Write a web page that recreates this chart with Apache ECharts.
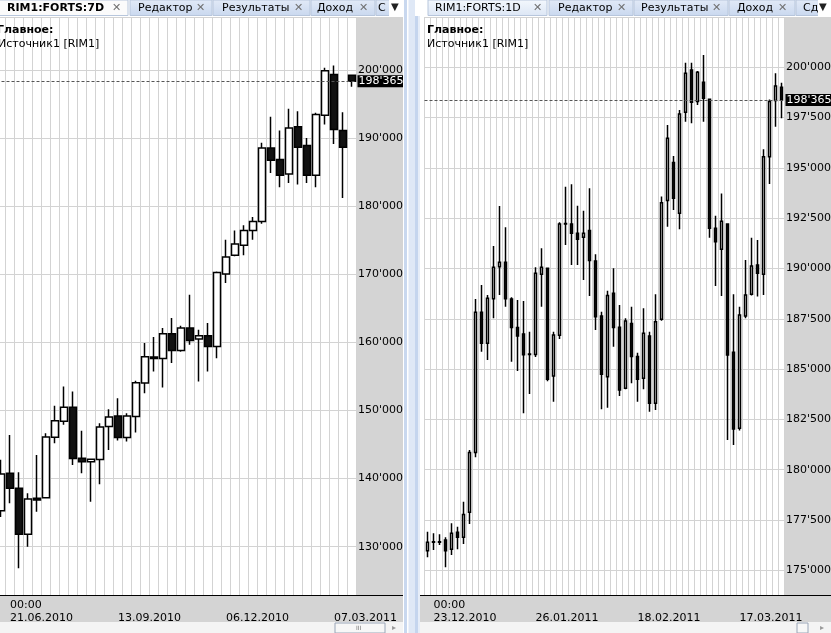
<!DOCTYPE html>
<html>
<head>
<meta charset="utf-8">
<script src="https://cdn.jsdelivr.net/npm/echarts@6/dist/echarts.min.js"></script>
<style>
  html, body { margin: 0; padding: 0; background: #fff; }
  #chart { width: 831px; height: 633px; }
</style>
</head>
<body>
<div id="chart"></div>
<script>
// RIM1:FORTS:7D - weekly bars
const weekOpen  = [135290, 140790, 138580, 131820, 137110, 137200, 146080, 148430, 150490, 142990,
                   142490, 142790, 147640, 149210, 146020, 149110, 154020, 157840, 157640, 161270,
                   158810, 162100, 160490, 160970, 159400, 170040, 172780, 174250, 176450, 177770,
                   188560, 186840, 184740, 191650, 188900, 184540, 193360, 199340, 191110, 199240];
const weekClose = [140690, 138580, 131820, 137010, 136860, 146120, 148480, 150490, 142940, 142490,
                   142850, 147590, 149060, 146020, 149210, 154060, 157880, 157640, 161270, 158810,
                   162100, 160280, 160970, 159400, 170280, 172540, 174450, 176450, 177770, 188560,
                   186740, 184540, 191500, 188650, 184540, 193460, 199880, 191250, 188650, 198365];
const weekLow   = [134370, 136380, 126820, 130000, 135140, 137110, 145200, 147900, 142010, 140790,
                   136610, 139170, 144210, 145580, 145430, 146760, 152550, 155720, 153370, 156960,
                   158620, 159650, 154250, 155720, 157690, 168720, 172650, 172780, 175080, 177440,
                   184890, 182770, 183420, 183170, 183420, 182770, 191990, 189150, 181210, 197530];
const weekHigh  = [142750, 146420, 140940, 137850, 143480, 146670, 150680, 153520, 152780, 147010,
                   142900, 148140, 150200, 151810, 149610, 154360, 159900, 160780, 162100, 163570,
                   162440, 167000, 161850, 162840, 170420, 175080, 176450, 177190, 178420, 189300,
                   193120, 191110, 194300, 193940, 190030, 193710, 200320, 200660, 193800, 199340];
const weekTickPos  = [1, 13, 25, 37];
const weekTickText = ['21.06.2010', '13.09.2010', '06.12.2010', '07.03.2011'];

// RIM1:FORTS:1D - daily bars
const dayOpen  = [175975, 176420, 176400, 176510, 176045, 176890, 176640, 177880, 180860, 187820,
                  186280, 188500, 190090, 190310, 188480, 187060, 186740, 185750, 185730, 189710,
                  190010, 184660, 186680, 192210, 192210, 191750, 191550, 191880, 190370, 187640,
                  184620, 188770, 187080, 184045, 187270, 185620, 184540, 186640, 183300, 187470,
                  193370, 195270, 192740, 197760, 199860, 198290, 199250, 198410, 192000, 190950,
                  192210, 185830, 182060, 187640, 188720, 190170, 189710, 195550, 198340, 199000];
const dayClose = [176390, 176400, 176420, 175975, 176840, 176640, 177780, 180860, 187820, 186280,
                  188520, 190060, 190310, 188500, 187060, 186640, 185710, 185720, 189760, 190060,
                  184490, 186690, 192210, 192230, 191750, 191450, 191750, 190390, 187600, 184740,
                  188650, 187060, 183960, 187390, 185620, 184490, 186780, 183300, 187350, 193270,
                  196470, 193490, 197680, 199700, 198260, 199750, 198460, 192000, 191330, 192340,
                  185700, 182020, 187690, 188680, 190120, 189760, 195550, 198290, 199070, 198365];
const dayLow   = [175650, 176010, 176260, 175150, 175760, 176045, 176310, 177300, 180620, 185860,
                  185450, 187520, 188680, 188100, 185370, 184900, 182800, 183760, 185600, 188100,
                  184400, 183380, 186500, 191170, 190170, 190170, 189430, 188630, 186940, 183000,
                  183080, 186110, 183660, 184000, 184290, 183380, 184000, 182880, 182970, 187400,
                  192070, 192900, 191950, 197290, 197210, 198120, 197290, 191530, 189130, 188630,
                  181480, 181230, 181950, 187520, 188650, 188600, 188680, 194200, 197040, 197460];
const dayHigh  = [176920, 176840, 176790, 176640, 177340, 177170, 178410, 180980, 188480, 189180,
                  188680, 191120, 193100, 192050, 188570, 188430, 188380, 186860, 190060, 191000,
                  190050, 186860, 192290, 194060, 194180, 193120, 192870, 193980, 190700, 187850,
                  188890, 190010, 188180, 187520, 188100, 185810, 188020, 186860, 188720, 193570,
                  197130, 195590, 197870, 200220, 200220, 199810, 200600, 198450, 192620, 193730,
                  192250, 188720, 188100, 190420, 191530, 191410, 195920, 198400, 199700, 199230];
const dayTickPos  = [1, 18, 35, 52];
const dayTickText = ['23.12.2010', '26.01.2011', '18.02.2011', '17.03.2011'];

const lastPrice = 198365;

const FONT = 'DejaVu Sans';
const GRID = '#d3d3d3';
const PANEL = '#d4d4d4';

function candles(o, c, l, h) {
    return o.map((v, i) => [v, c[i], l[i], h[i]]);
}

function fmtPrice(v) {
    const s = String(Math.round(v));
    return s.slice(0, -3) + "'" + s.slice(-3);
}

function xAxisFor(gridIndex, n, pos, text) {
    return {
        type: 'category',
        gridIndex,
        data: Array.from({ length: n }, (_, i) => String(i)),
        boundaryGap: true,
        z: 3,
        axisLine: { show: true, lineStyle: { color: '#000', width: 1 } },
        axisTick: { show: false },
        axisLabel: {
            interval: (i) => pos.includes(i),
            formatter: (v, i) => {
                const k = pos.indexOf(i);
                return (k === 0 ? '00:00' : ' ') + '\n' + text[k];
            },
            align: 'left',
            margin: 4,
            lineHeight: 13,
            fontFamily: FONT,
            fontSize: 11,
            color: '#000'
        },
        splitLine: { show: true, interval: 0, lineStyle: { color: GRID, width: 1 } }
    };
}

function yAxisFor(gridIndex, min, max, step) {
    return {
        type: 'value',
        gridIndex,
        position: 'right',
        min, max,
        minInterval: step,
        maxInterval: step,
        z: 3,
        axisLine: { show: false },
        axisTick: { show: false },
        axisLabel: {
            margin: 1.5,
            fontFamily: FONT,
            fontSize: 11,
            color: '#000',
            showMinLabel: false,
            showMaxLabel: false,
            formatter: fmtPrice
        },
        splitLine: { show: true, lineStyle: { color: GRID, width: 1 } }
    };
}

function candleSeries(idx, data, bw) {
    return {
        type: 'candlestick',
        xAxisIndex: idx,
        yAxisIndex: idx,
        data,
        barWidth: bw,
        z: 4,
        animation: false,
        itemStyle: { color: '#fff', color0: '#111', borderColor: '#000', borderColor0: '#000', borderWidth: 1.5 },
        emphasis: { disabled: true },
        markLine: {
            silent: true,
            animation: false,
            symbol: 'none',
            data: [{ yAxis: lastPrice }],
            lineStyle: { color: '#555', type: [3, 2], width: 1 },
            label: {
                show: true,
                position: 'end',
                distance: 1,
                formatter: fmtPrice(lastPrice),
                color: '#fff',
                backgroundColor: '#000',
                padding: [1, 2, 0, 1],
                fontFamily: FONT,
                fontSize: 11
            },
            emphasis: { disabled: true }
        }
    };
}

// window chrome (tabs, panels, scrollbars)
const g = [];
function rect(x, y, w, h, fill, z, stroke) {
    g.push({ type: 'rect', silent: true, z: z || 1, shape: { x, y, width: w, height: h },
             style: { fill, stroke: stroke || null, lineWidth: stroke ? 1 : 0 } });
}
function label(x, y, s, font, fill) {
    g.push({ type: 'text', silent: true, z: 10, x, y,
             style: { text: s, font, fill: fill || '#000', textAlign: 'left', textVerticalAlign: 'middle',
                      align: 'left', verticalAlign: 'middle' } });
}
const tabFill = new echarts.graphic.LinearGradient(0, 0, 0, 1, [
    { offset: 0, color: '#e2eaf7' }, { offset: 1, color: '#c9d8ef' }]);
const tabFillActive = new echarts.graphic.LinearGradient(0, 0, 0, 1, [
    { offset: 0, color: '#f4f8fd' }, { offset: 1, color: '#dce6f5' }]);
const f11 = '11px "DejaVu Sans"';
const f11b = 'bold 11px "DejaVu Sans"';
const fX = '11px "DejaVu Sans"';

function tabs(x0, x1, list, activeFill, boldFirst) {
    rect(x0, 0, x1 - x0, 16, '#ffffff', 8);
    list.forEach((t, i) => {
        rect(t[0], 0, t[1] - t[0], 15.5, i === 0 ? activeFill : tabFill, 8, '#b7c6dc');
        label(t[2], 8, t[3], i === 0 && boldFirst ? f11b : f11, '#000');
        if (t[4] != null) label(t[4], 8, '\u2715', fX, '#707070');
    });
}

// left panel
rect(357, 17, 46, 579, PANEL, 1);
rect(0, 596, 403, 26, PANEL, 1);
rect(356, 595, 47, 1, '#000', 5);
rect(0, 622, 403, 11, '#f4f4f4', 1);
rect(335, 623, 50, 10, '#f7f7f7', 2, '#9aa6b8');
label(356, 628, 'III', '6px "DejaVu Sans"', '#777');
label(392, 628, '\u25B8', '8px "DejaVu Sans"', '#999');
tabs(0, 403, [
    [-1, 128, 7, 'RIM1:FORTS:7D', 112],
    [130, 212, 138, '\u0420\u0435\u0434\u0430\u043A\u0442\u043E\u0440', 196],
    [213, 310, 222, '\u0420\u0435\u0437\u0443\u043B\u044C\u0442\u0430\u0442\u044B', 294],
    [311, 375, 317, '\u0414\u043E\u0445\u043E\u0434', 359],
    [376, 390, 378, '\u0421', null]
], '#fbfbfb', true);
rect(389, 0, 14, 16, '#ffffff', 9);
label(391, 7, '\u25BC', '10px "DejaVu Sans"', '#222');
label(-3, 30, '\u0413\u043B\u0430\u0432\u043D\u043E\u0435:', f11b, '#000');
label(-2, 44, '\u0418\u0441\u0442\u043E\u0447\u043D\u0438\u043A1 [RIM1]', f11, '#000');

// splitter between panels
rect(403, 0, 16, 633, '#ffffff', 6);
rect(404, 0, 3, 633, '#c9d8ef', 7);
rect(408.5, 0, 6.5, 633, '#dfe8f6', 7);
rect(415, 16, 3, 617, '#c5d5ee', 7);
rect(418, 16, 2, 617, '#e6edf8', 7);

// right panel
rect(785, 17, 46, 579, PANEL, 1);
rect(420, 596, 411, 26, PANEL, 1);
rect(420, 595, 5, 1, '#000', 5);
rect(784, 595, 47, 1, '#000', 5);
rect(420, 622, 411, 11, '#f4f4f4', 1);
rect(797, 623, 11, 10, '#f7f7f7', 2, '#9aa6b8');
label(820, 628, '\u25B8', '8px "DejaVu Sans"', '#999');
tabs(415, 831, [
    [428, 547, 435, 'RIM1:FORTS:1D', 533],
    [549, 633, 558, '\u0420\u0435\u0434\u0430\u043A\u0442\u043E\u0440', 617],
    [634, 728, 641, '\u0420\u0435\u0437\u0443\u043B\u044C\u0442\u0430\u0442\u044B', 712],
    [729, 795, 737, '\u0414\u043E\u0445\u043E\u0434', 778],
    [796, 822, 803, '\u0421\u0434', null]
], tabFillActive, false);
rect(818, 0, 13, 16, '#ffffff', 9);
label(819, 7, '\u25BC', '10px "DejaVu Sans"', '#222');
label(427, 30, '\u0413\u043B\u0430\u0432\u043D\u043E\u0435:', f11b, '#000');
label(427, 44, '\u0418\u0441\u0442\u043E\u0447\u043D\u0438\u043A1 [RIM1]', f11, '#000');

const option = {
    animation: false,
    backgroundColor: '#fff',
    grid: [
        { left: -3.5, top: 17, width: 360, height: 578, containLabel: false, outerBoundsMode: 'none' },
        { left: 424.5, top: 17, width: 360, height: 578, containLabel: false, outerBoundsMode: 'none' }
    ],
    xAxis: [
        xAxisFor(0, weekOpen.length, weekTickPos, weekTickText),
        xAxisFor(1, dayOpen.length, dayTickPos, dayTickText)
    ],
    yAxis: [
        yAxisFor(0, 122907, 207783, 10000),
        yAxisFor(1, 173774, 202494, 2500)
    ],
    series: [
        candleSeries(0, candles(weekOpen, weekClose, weekLow, weekHigh), 7),
        candleSeries(1, candles(dayOpen, dayClose, dayLow, dayHigh), 3.2)
    ],
    graphic: { elements: g }
};

const chart = echarts.init(document.getElementById('chart'));
chart.setOption(option);
</script>
</body>
</html>
